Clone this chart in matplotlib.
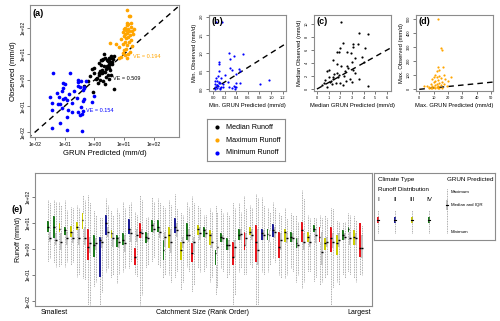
import matplotlib.pyplot as plt
import numpy as np

plt.rcParams['font.family'] = ['Liberation Sans', 'DejaVu Sans']

# ---- panels (a)-(d): GRUN predicted vs observed runoff (mm/d) ----
max_pred = [13, 15, 15.5, 13, 14, 16.5, 12.5, 11, 14, 17, 10, 12, 15, 18, 9, 13, 11, 16, 20, 10, 14,
            12, 8, 17, 11, 15, 9, 13, 19, 7, 12, 10, 16, 14, 11, 8, 13, 6.5, 9, 3.3, 22, 5.5]
max_obs = [500, 290, 280, 160, 140, 160, 130, 100, 95, 105, 90, 85, 80, 75, 70, 65, 60, 55, 60, 50, 45,
           40, 38, 35, 30, 28, 25, 22, 20, 18, 16, 14, 12, 10, 9, 8, 7, 6.8, 11, 27, 90, 25]
med_pred = [2.1, 3.6, 4.4, 2.2, 3.1, 3.5, 3.1, 2.0, 4.1, 1.7, 2.6, 3.9, 3.0, 4.0, 1.7, 2.6, 2.7,
            3.1, 2.4, 1.9, 1.4, 3.0, 4.4, 0.85, 1.0, 1.4, 1.8, 0.45, 0.6, 1.85, 1.4, 2.0, 1.2, 2.3,
            2.8, 1.6, 2.5, 3.3, 0.7, 1.1, 2.2, 1.5, 0.9, 3.6, 2.1, 1.3, 2.9, 1.75, 3.3, 1.0]
med_obs = [10.3, 8.6, 8.4, 7.1, 7.0, 7.0, 6.5, 6.3, 6.3, 5.7, 5.7, 5.0, 4.2, 4.2, 3.9, 3.5, 3.2,
           3.0, 2.7, 2.1, 1.9, 1.1, 0.45, 2.7, 1.8, 1.5, 1.8, 0.6, 0.9, 5.7, 4.5, 0.9, 1.2, 2.0,
           1.6, 1.0, 1.3, 2.4, 1.4, 1.1, 0.7, 2.3, 0.35, 1.5, 3.6, 0.8, 5.5, 2.5, 4.8, 3.0]
min_pred = [0.04, 0.15, 0.27, 0.51, 0.35, 0.29, 0.09, 0.10, 0.29, 0.32, 0.46, 0.45, 0.09, 0.21,
            0.08, 0.14, 0.40, 0.46, 0.81, 0.97, 0.35, 0.38, 0.10, 0.06, 0.13, 0.032, 0.066, 0.09,
            0.054, 0.036, 0.069, 0.12, 0.17, 0.25, 0.40, 0.036, 0.079, 0.17, 0.27, 0.40, 0.12,
            0.33, 0.036, 0.12, 0.37, 0.07]
min_obs = [1.85, 1.85, 1.0, 0.96, 0.93, 0.83, 0.76, 0.70, 0.58, 0.53, 0.49, 0.55, 0.49, 0.39,
           0.37, 0.30, 0.42, 0.18, 0.15, 0.24, 0.09, 0.05, 0.21, 0.12, 0.07, 0.22, 0.23, 0.18,
           0.31, 0.13, 0.12, 0.17, 0.13, 0.20, 0.16, 0.074, 0.087, 0.06, 0.06, 0.066, 0.039,
           0.045, 0.014, 0.012, 0.011, 0.022]
ve_text = ['VE = 0.194', 'VE = 0.509', 'VE = 0.154']
log_ticks = [0.01, 0.1, 1, 10, 100]
log_labels = ['1e-02', '1e-01', '1e+00', '1e+01', '1e+02']

# ---- panel (e): log10 runoff per catchment, ordered by catchment size ----
climate = [4, 4, 3, 4, 3, 3, 3, 1, 4, 2, 2, 3, 4, 4, 2, 1, 1, 4, 4, 4, 4, 3, 2, 3, 4, 1, 3, 4,
           3, 4, 4, 4, 1, 4, 1, 3, 1, 2, 4, 2, 1, 3, 4, 4, 1, 3, 4, 1, 3, 1, 3, 4, 4, 3, 1]
obs_q3 = [1.08, 1.27, 0.99, 0.86, 0.88, 1.05, 1.37, 0.79, 0.54, 0.47, 1.31, 0.73, 0.54, 0.63,
          1.15, 0.03, 0.99, 0.67, 1.12, 1.12, 0.35, 0.86, 1.18, 0.28, 0.99, 0.22, 0.92, 0.86,
          0.73, -0.04, 0.60, 0.41, 0.28, 0.79, 0.67, 0.86, 0.92, 0.79, 0.79, 0.95, 0.67, 0.79,
          0.67, 0.41, 1.05, 0.67, 0.92, 0.86, 0.41, 0.86, 0.54, 0.73, 0.86, 0.73, 0.99]
obs_med = [0.86, 0.83, 0.79, 0.73, 0.67, 0.86, 1.12, 0.09, 0.15, 0.35, 0.99, 0.60, 0.41, 0.35,
           0.79, -0.29, 0.67, 0.47, 0.92, 0.86, -0.04, 0.54, 0.86, -0.04, 0.54, -0.17, 0.79,
           0.73, 0.54, -0.17, 0.47, 0.15, -0.29, 0.54, 0.15, 0.67, 0.28, 0.60, 0.56, 0.73, 0.09,
           0.67, 0.47, 0.22, 0.73, 0.47, 0.79, 0.47, 0.22, 0.41, 0.22, 0.54, 0.79, 0.47, 0.03]
obs_q1 = [0.64, 0.41, 0.64, 0.54, 0.47, 0.73, 0.79, -0.42, -0.29, -1.06, 0.54, 0.41, 0.09, 0.15,
          0.58, -0.62, 0.41, 0.22, 0.67, 0.67, -0.42, 0.03, 0.60, -0.42, 0.35, -0.49, 0.54, 0.47,
          0.15, -0.62, 0.28, -0.04, -0.62, 0.35, -0.04, 0.54, -0.49, 0.35, 0.35, 0.47, -0.36,
          0.28, 0.28, 0.03, 0.28, 0.28, 0.67, 0.28, -0.04, -0.10, -0.23, 0.35, 0.67, 0.15, -0.29]
obs_max = [1.88, 1.88, 1.82, 1.88, 1.63, 1.69, 2.08, 2.08, 1.50, 1.24, 1.95, 1.50, 1.56, 1.82,
           1.69, 1.44, 2.08, 1.18, 2.01, 1.95, 1.69, 1.88, 2.10, 1.44, 1.82, 2.05, 1.69, 1.31,
           1.56, 1.69, 1.56, 1.44, 1.82, 1.76, 2.05, 1.69, 2.10, 2.00, 1.56, 1.82, 1.44, 1.56,
           1.37, 1.31, 2.27, 1.31, 1.24, 1.31, 1.31, 1.56, 1.12, 1.05, 1.37, 1.31, 0.99]
obs_min = [-0.49, -0.55, -0.68, -0.68, -0.62, -1.06, -1.13, -2.15, -1.45, -2.15, -0.87, -1.13,
           -1.32, -0.87, -0.74, -0.94, -2.15, -0.74, -0.49, -0.62, -1.13, -1.00, -1.13, -1.58,
           -0.68, -1.64, -0.74, -0.87, -1.26, -1.77, -0.74, -1.13, -2.15, -0.87, -1.00, -0.62,
           -2.15, -0.87, -0.87, -0.36, -1.00, -1.13, -0.74, -1.26, -1.51, -0.87, -1.26, -1.38,
           -1.13, -2.15, -1.26, -1.00, -0.87, -1.13, -1.00]
pred_q3 = [0.64, 0.60, 0.60, 0.67, 0.67, 0.79, 0.86, 0.47, 0.41, 0.47, 0.86, 0.60, 0.47, 0.54,
           0.79, 0.79, 0.79, 0.60, 0.99, 0.86, 0.67, 0.79, 0.99, 0.47, 0.79, 0.47, 0.86, 0.79,
           0.60, 0.35, 0.54, 0.35, 0.35, 0.79, 0.60, 0.79, 0.79, 0.73, 0.73, 0.86, 0.60, 0.60,
           0.60, 0.41, 0.60, 0.54, 0.79, 0.67, 0.47, 0.60, 0.60, 0.60, 0.67, 0.60, 0.54]
pred_med = [0.44, 0.35, 0.28, 0.41, 0.44, 0.41, 0.41, 0.22, 0.22, 0.28, 0.67, 0.41, 0.28, 0.22,
            0.60, 0.54, 0.60, 0.44, 0.79, 0.67, 0.47, 0.28, 0.73, 0.28, 0.54, 0.28, 0.60, 0.60,
            0.28, 0.09, 0.44, 0.15, 0.09, 0.56, 0.41, 0.54, -0.04, 0.54, 0.54, 0.64, 0.35, 0.41,
            0.44, 0.15, 0.28, 0.28, 0.54, -0.10, 0.28, 0.28, 0.35, 0.47, 0.41, 0.41, 0.03]
pred_q1 = [0.26, 0.15, -0.04, 0.15, 0.22, 0.15, 0.15, -0.17, -0.04, 0.03, 0.47, 0.09, 0.03, -0.10,
           0.28, 0.28, 0.41, 0.28, 0.60, 0.41, 0.09, -0.17, 0.47, 0.03, 0.28, -0.10, 0.35, 0.41,
           0.03, -0.17, 0.28, -0.04, -0.29, 0.35, 0.15, 0.35, -0.62, 0.35, 0.28, 0.41, -0.04,
           0.22, 0.28, 0.03, -0.04, 0.09, 0.22, -0.62, 0.09, 0.03, 0.09, 0.35, 0.15, 0.15, -0.36]
pred_max = [1.82, 1.82, 1.69, 1.50, 1.56, 1.56, 1.88, 1.82, 1.31, 1.18, 1.69, 1.31, 1.37, 1.56,
            1.82, 1.31, 1.88, 1.24, 1.82, 1.82, 1.56, 1.69, 1.56, 1.31, 1.63, 1.76, 1.56, 1.31,
            1.44, 1.44, 1.37, 1.31, 1.56, 1.44, 1.56, 1.56, 1.95, 1.69, 1.44, 1.63, 1.31, 1.18,
            1.31, 1.05, 1.95, 1.18, 1.18, 1.18, 1.18, 1.56, 1.05, 1.05, 1.31, 1.12, 0.92]
pred_min = [-0.36, -0.68, -0.62, -0.49, -0.49, -1.00, -1.19, -2.15, -1.26, -1.64, -0.74, -1.00,
            -0.94, -0.74, -0.49, -1.06, -1.77, -0.62, -0.36, -0.68, -1.00, -1.26, -0.87, -1.26,
            -0.87, -1.38, -0.87, -0.74, -1.06, -1.51, -0.87, -1.00, -1.77, -0.74, -0.94, -0.74,
            -2.15, -1.00, -0.62, -0.49, -1.13, -1.00, -0.87, -1.00, -1.26, -0.87, -1.13, -1.26,
            -1.00, -1.51, -1.38, -1.13, -1.00, -1.26, -1.00]
climate_names = ['I', 'II', 'III', 'IV']
climate_cols = ['#e8141c', '#1c1c96', '#cdcd00', '#1d7a1d']

frame = '#8c8c8c'
grey_box = '#c4c4c4'
grey_whisk = '#8f8f8f'


def style(ax, fs):
    for s in ax.spines.values():
        s.set_color(frame)
        s.set_linewidth(0.8)
    ax.tick_params(direction='out', length=2, width=0.5, labelsize=fs, pad=1.5,
                   color='#444444')
    for lab in ax.get_yticklabels():
        lab.set_rotation(90)
        lab.set_va('center')


fig = plt.figure(figsize=(5, 3.21), dpi=100)

# (a) log-log scatter
ax = fig.add_axes([0.06, 0.573, 0.298, 0.411])
ax.set_xscale('log')
ax.set_yscale('log')
ax.set_xlim(10 ** -2.17, 10 ** 2.85)
ax.set_ylim(10 ** -2.19, 10 ** 2.88)
ax.plot([1e-3, 1e3], [1e-3, 1e3], color='black', ls=(0, (4, 3)), lw=1)
ax.scatter(max_pred, max_obs, s=7, color='orange', lw=0, zorder=3)
ax.scatter(med_pred, med_obs, s=7, color='black', lw=0, zorder=3)
ax.scatter(min_pred, min_obs, s=7, color='blue', lw=0, zorder=3)
ax.text(20, 8.3, ve_text[0], color='orange', fontsize=4, va='center')
ax.text(4.3, 1.2, ve_text[1], color='black', fontsize=4, va='center')
ax.text(0.52, 0.07, ve_text[2], color='blue', fontsize=4, va='center')
ax.set_xticks(log_ticks, log_labels)
ax.set_yticks(log_ticks, log_labels)
ax.minorticks_off()
ax.set_xlabel('GRUN Predicted (mm/d)', fontsize=5.5, labelpad=2)
ax.set_ylabel('Observed (mm/d)', fontsize=5.5, labelpad=2)
ax.text(0.02, 0.97, '(a)', transform=ax.transAxes, fontsize=6.5, fontweight='bold', va='top')
style(ax, 3.6)

# (b)-(d) linear scatter panels
panels = [
    ('(b)', 0.418, min_pred, min_obs, 'blue', (-0.075, 1.26), (-0.05, 2.05),
     [0, 0.2, 0.4, 0.6, 0.8, 1.0, 1.2], ['0.0', '0.2', '0.4', '0.6', '0.8', '1.0', '1.2'],
     [0, 0.5, 1.0, 1.5, 2.0], ['0.0', '0.5', '1.0', '1.5', '2.0'],
     'Min. GRUN Predicted (mm/d)', 'Min. Observed (mm/d)'),
    ('(c)', 0.628, med_pred, med_obs, 'black', (-0.25, 6.35), (-0.3, 11.4),
     list(range(7)), [str(i) for i in range(7)],
     list(range(0, 11, 2)), [str(i) for i in range(0, 11, 2)],
     'Median GRUN Predicted (mm/d)', 'Median Observed (mm/d)'),
    ('(d)', 0.832, max_pred, max_obs, 'orange', (-2.3, 51.4), (-12, 528),
     list(range(0, 51, 10)), [str(i) for i in range(0, 51, 10)],
     list(range(0, 501, 100)), [str(i) for i in range(0, 501, 100)],
     'Max. GRUN Predicted (mm/d)', 'Max. Observed (mm/d)'),
]
for tag, left, xs, ys, col, xl, yl, xt, xtl, yt, ytl, xlab, ylab in panels:
    ax = fig.add_axes([left, 0.7165, 0.154, 0.237])
    ax.set_xlim(*xl)
    ax.set_ylim(*yl)
    ax.plot([0, 600], [0, 600], color='black', ls=(0, (4, 3)), lw=1)
    ax.scatter(xs, ys, s=2.5, color=col, lw=0, zorder=3)
    ax.set_xticks(xt, xtl)
    ax.set_yticks(yt, ytl)
    ax.set_xlabel(xlab, fontsize=4.2, labelpad=2)
    ax.set_ylabel(ylab, fontsize=4.2, labelpad=2)
    ax.text(0.03, 0.97, tag, transform=ax.transAxes, fontsize=6.5, fontweight='bold', va='top')
    style(ax, 2.8)

# legend for (a)-(d)
lg = fig.add_axes([0.414, 0.498, 0.156, 0.131])
lg.set_xlim(0, 1)
lg.set_ylim(0, 1)
lg.set_xticks([])
lg.set_yticks([])
for s in lg.spines.values():
    s.set_color(frame)
    s.set_linewidth(0.8)
for yy, col, name in zip([0.81, 0.5, 0.2], ['black', 'orange', 'blue'],
                         ['Median Runoff', 'Maximum Runoff', 'Minimum Runoff']):
    lg.scatter([0.13], [yy], s=9, color=col, lw=0)
    lg.text(0.24, yy, name, fontsize=5.2, va='center')

# (e) boxplots by catchment
ax = fig.add_axes([0.07, 0.0467, 0.674, 0.414])
ax.set_yscale('log')
pos = np.arange(1, len(climate) + 1)


def stats(q1, med, q3, lo, hi):
    return [dict(q1=10 ** a, med=10 ** b, q3=10 ** c, whislo=10 ** d, whishi=10 ** e)
            for a, b, c, d, e in zip(q1, med, q3, lo, hi)]


wp = dict(color=grey_whisk, linestyle=(0, (1, 1)), linewidth=0.6)
mp = dict(color='black', linewidth=1)
b1 = ax.bxp(stats(obs_q1, obs_med, obs_q3, obs_min, obs_max), positions=pos - 0.17,
            widths=0.32, patch_artist=True, showfliers=False, showcaps=False,
            whiskerprops=wp, medianprops=mp, boxprops=dict(linewidth=0))
for patch, c in zip(b1['boxes'], climate):
    patch.set_facecolor(climate_cols[c - 1])
b2 = ax.bxp(stats(pred_q1, pred_med, pred_q3, pred_min, pred_max), positions=pos + 0.17,
            widths=0.34, patch_artist=True, showfliers=False, showcaps=False,
            whiskerprops=wp, medianprops=mp, boxprops=dict(linewidth=0, facecolor=grey_box))
ax.set_xlim(-1.4, 56.9)
ax.set_ylim(10 ** -2.19, 10 ** 2.92)
ax.set_xticks([])
ax.set_yticks(log_ticks, log_labels)
ax.minorticks_off()
ax.set_ylabel('Runoff (mm/d)', fontsize=5, labelpad=2)
style(ax, 3.6)
fig.text(0.024, 0.346, '(e)', fontsize=6.5, fontweight='bold', va='center')
fig.text(0.108, 0.028, 'Smallest', fontsize=5, ha='center', va='center')
fig.text(0.404, 0.028, 'Catchment Size (Rank Order)', fontsize=5, ha='center', va='center')
fig.text(0.718, 0.028, 'Largest', fontsize=5, ha='center', va='center')

# legend for (e)
le = fig.add_axes([0.748, 0.252, 0.242, 0.209])
le.set_xlim(0, 1)
le.set_ylim(0, 1)
le.set_xticks([])
le.set_yticks([])
for s in le.spines.values():
    s.set_color(frame)
    s.set_linewidth(0.8)
le.text(0.035, 0.9, 'Climate Type', fontsize=4.5, va='center')
le.text(0.035, 0.76, 'Runoff Distribution', fontsize=4.5, va='center')
le.text(0.985, 0.9, 'GRUN Predicted', fontsize=4.5, va='center', ha='right')
for x, name, col in zip([0.036, 0.176, 0.314, 0.457], climate_names, climate_cols):
    le.text(x, 0.6, name, fontsize=4.5, ha='center', va='center')
    le.plot([x, x], [0.11, 0.45], color=grey_whisk, ls=(0, (1, 1)), lw=0.6)
    le.add_patch(plt.Rectangle((x - 0.009, 0.25), 0.018, 0.1, color=col, lw=0))
    le.plot([x - 0.009, x + 0.009], [0.3, 0.3], color='black', lw=0.8)
le.plot([0.6, 0.6], [0.11, 0.77], color=grey_whisk, ls=(0, (1, 1)), lw=0.6)
le.add_patch(plt.Rectangle((0.591, 0.45), 0.018, 0.15, color=grey_box, lw=0))
le.plot([0.591, 0.609], [0.52, 0.52], color='black', lw=0.8)
le.text(0.634, 0.72, 'Maximum', fontsize=3.2, va='center')
le.text(0.634, 0.52, 'Median and IQR', fontsize=3.2, va='center')
le.text(0.634, 0.12, 'Minimum', fontsize=3.2, va='center')

fig.savefig('out.png', dpi=100)
